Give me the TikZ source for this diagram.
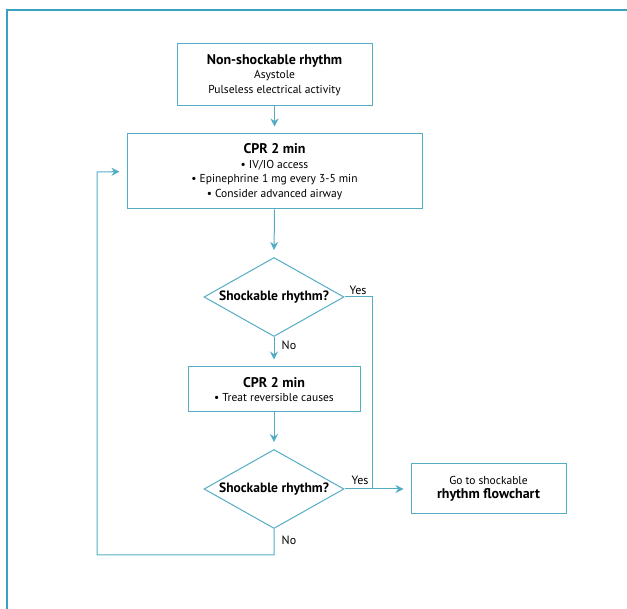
\documentclass[tikz,border=0pt]{standalone}
\usepackage{fontspec}
\setmainfont{PT Sans}
\usetikzlibrary{shapes.geometric,arrows.meta}
\definecolor{lineC}{RGB}{84,172,196}
\definecolor{frameC}{RGB}{58,160,192}
\newcommand\hdfont{\bfseries\fontsize{14}{15}\selectfont}
\begin{document}
\begin{tikzpicture}[x=1pt,y=-1pt,
  box/.style={draw=lineC,line width=1pt,rectangle,inner sep=0pt,align=center,
    font=\fontsize{11.5}{14.5}\selectfont},
  dec/.style={draw=lineC,line width=1pt,diamond,inner sep=0pt,shape aspect=1.76,
    minimum width=140pt,minimum height=79pt,font=\bfseries\fontsize{13.5}{14}\selectfont},
  conn/.style={draw=lineC,line width=1pt},
  arr/.style={conn,-{Stealth[length=8pt,width=8pt]},shorten >=7pt},
  lbl/.style={font=\fontsize{12}{12}\selectfont,inner sep=0pt}
]
\useasboundingbox (0,0) rectangle (627,609);
\draw[frameC,line width=1.6pt] (7,620) -- (7,10) -- (640,10);

\node[box,minimum width=195pt,minimum height=62pt] (b1) at (274.5,75)
  {{\hdfont Non-shockable rhythm}\\Asystole\\Pulseless electrical activity};
\node[box,minimum width=295pt,minimum height=75pt] (b2) at (274.5,171.5)
  {{\hdfont CPR 2 min}\\\textbullet\ IV/IO access\\\textbullet\ Epinephrine 1 mg every 3-5 min\\\textbullet\ Consider advanced airway};
\node[dec] (d1) at (274,297) {Shockable rhythm?};
\node[box,minimum width=172pt,minimum height=45pt] (b3) at (274,389.5)
  {{\hdfont CPR 2 min}\\\textbullet\ Treat reversible causes};
\node[dec] (d2) at (274,489) {Shockable rhythm?};
\node[box,minimum width=155pt,minimum height=50pt] (b4) at (488.5,489)
  {Go to shockable\\{\hdfont rhythm flowchart}};

\coordinate (y1) at (372,297);
\coordinate (y2) at (372,489);
\coordinate (n1) at (274,555);
\coordinate (n2) at (97,555);
\coordinate (n3) at (97,172);

\draw[arr] (b1.south) -- (b2.north);
\draw[arr] (b2.south) -- (d1.north);
\draw[arr] (d1.south) -- (b3.north);
\draw[arr] (b3.south) -- (d2.north);
\draw[conn] (d1.east) -- (y1) -- (y2);
\draw[arr] (d2.east) -- (b4.west);
\draw[arr] (d2.south) -- (n1) -- (n2) -- (n3) -- (b2.west);

\node[lbl] (yes1) at (358,290) {Yes};
\node[lbl] (no1) at (289,345) {No};
\node[lbl] (yes2) at (360,480) {Yes};
\node[lbl] (no2) at (289,540) {No};
\end{tikzpicture}
\end{document}
